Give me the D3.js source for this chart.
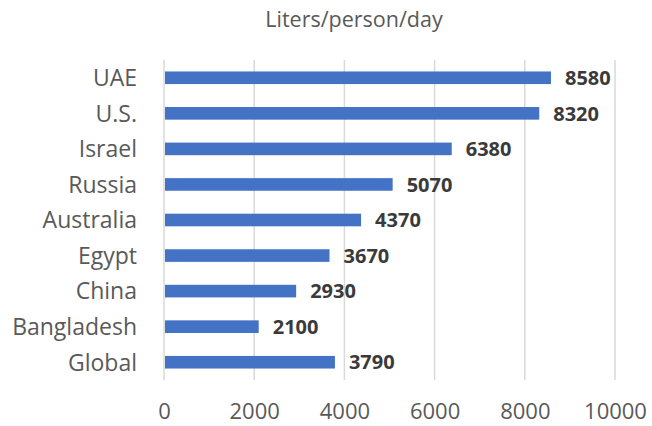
<!DOCTYPE html>
<html>
<head>
<meta charset="utf-8">
<script src="https://cdn.jsdelivr.net/npm/d3@7"></script>
<style>
  html, body { margin: 0; padding: 0; background: #ffffff; }
  svg { display: block; font-family: "Open Sans", sans-serif; }
</style>
</head>
<body>
<svg id="chart" width="652" height="426"></svg>
<script>
const categories = ["UAE", "U.S.", "Israel", "Russia", "Australia", "Egypt", "China", "Bangladesh", "Global"];
const values = [8580, 8320, 6380, 5070, 4370, 3670, 2930, 2100, 3790];
const tickValues = [0, 2000, 4000, 6000, 8000, 10000];
const title = "Liters/person/day";

const svg = d3.select("#chart");
const margin = { left: 164, right: 37, top: 60, bottom: 46 };
const W = 652, H = 426;

const x = d3.scaleLinear().domain([0, 10000]).range([margin.left, W - margin.right]);
const y = d3.scaleBand().domain(categories).range([margin.top, H - margin.bottom]).paddingInner(0.645).paddingOuter(0.3225);

// gridlines
svg.append("g")
  .selectAll("line")
  .data(tickValues)
  .join("line")
  .attr("x1", d => x(d)).attr("x2", d => x(d))
  .attr("y1", margin.top).attr("y2", H - margin.bottom)
  .attr("stroke", "#d9d9d9")
  .attr("stroke-width", 1.5);

// bars
svg.append("g")
  .selectAll("rect")
  .data(categories)
  .join("rect")
  .attr("x", x(0) + 1)
  .attr("y", d => y(d))
  .attr("width", (d, i) => x(values[i]) - x(0) - 1)
  .attr("height", y.bandwidth())
  .attr("fill", "#4472c4");

// value labels
svg.append("g")
  .selectAll("text")
  .data(categories)
  .join("text")
  .attr("x", (d, i) => x(values[i]) + 14)
  .attr("y", d => y(d) + y.bandwidth() / 2)
  .attr("dy", "0.36em")
  .attr("font-size", 20)
  .attr("font-weight", "bold")
  .attr("fill", "#3a3a3a")
  .text((d, i) => values[i]);

// y axis (category labels)
const yAxis = d3.axisLeft(y).tickSize(0).tickPadding(27);
const gy = svg.append("g").attr("transform", `translate(${margin.left},0)`).call(yAxis);
gy.select(".domain").remove();
gy.selectAll("text")
  .attr("font-size", 23)
  .attr("font-family", "'Open Sans', sans-serif")
  .attr("fill", "#595959")
  .attr("dy", "0.36em");

// x axis
const xAxis = d3.axisBottom(x).tickValues(tickValues).tickSize(0).tickPadding(23).tickFormat(d3.format("d"));
const gx = svg.append("g").attr("transform", `translate(0,${H - margin.bottom})`).call(xAxis);
gx.select(".domain").remove();
gx.selectAll("text")
  .attr("font-size", 22)
  .attr("font-family", "'Open Sans', sans-serif")
  .attr("fill", "#595959");

// title
svg.append("text")
  .attr("x", 354)
  .attr("y", 27)
  .attr("text-anchor", "middle")
  .attr("font-size", 21.5)
  .attr("fill", "#595959")
  .text(title);
</script>
</body>
</html>
